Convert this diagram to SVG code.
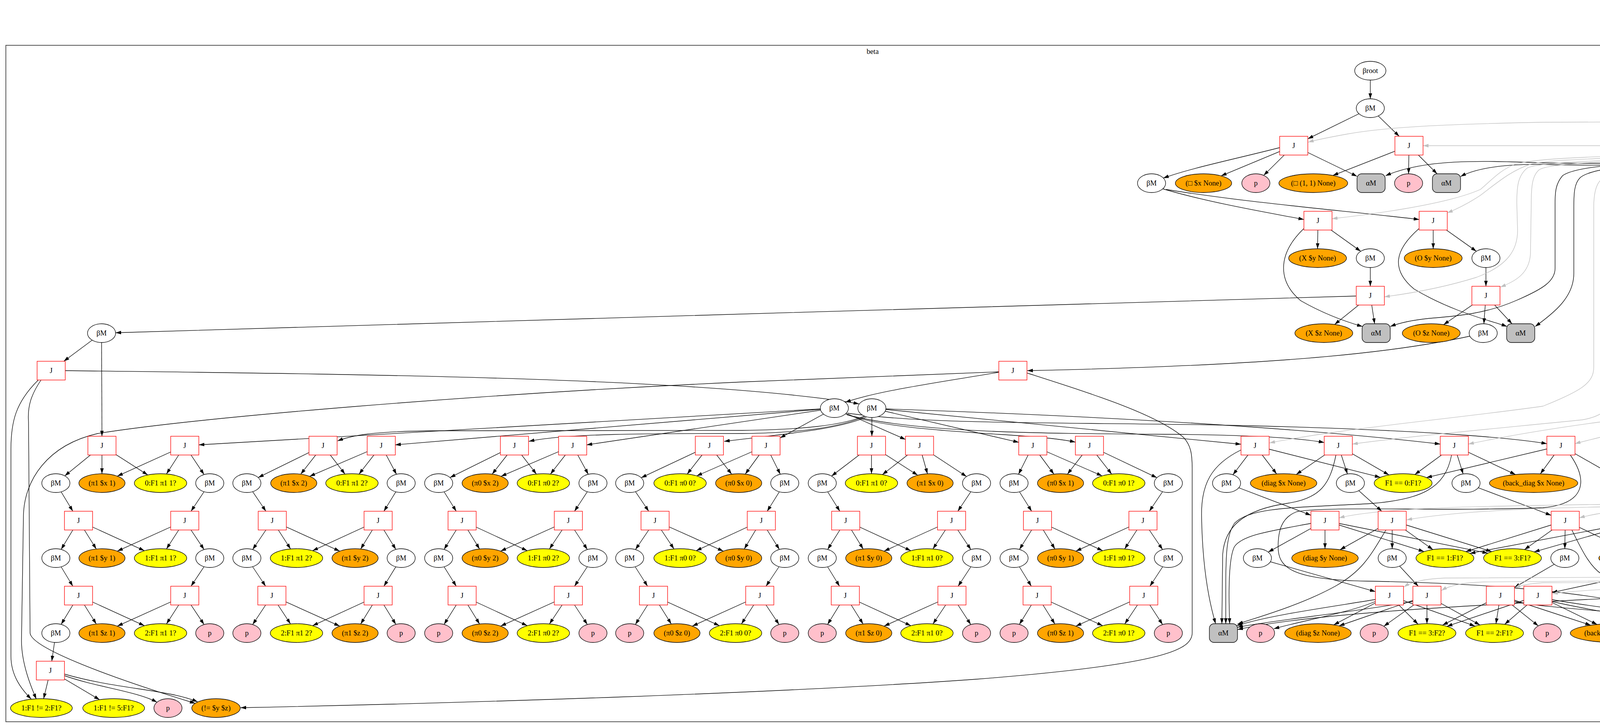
<svg xmlns="http://www.w3.org/2000/svg" width="5160" height="1864" viewBox="0 0 5160 1864">
<style>
text{font-family:"Liberation Serif","Times New Roman",serif;font-size:18.67px;text-anchor:middle;fill:#000}
.n{fill:#fff;stroke:#000;stroke-width:1.33}
.j{fill:#fff;stroke:#f00;stroke-width:1.33}
.o{fill:#ffa500;stroke:#000;stroke-width:1.33}
.y{fill:#ff0;stroke:#000;stroke-width:1.33}
.p{fill:#ffc0cb;stroke:#000;stroke-width:1.33}
.a{fill:#c0c0c0;stroke:#000;stroke-width:1.33}
.c{fill:none;stroke:#555;stroke-width:2}
.e{fill:none;stroke:#000;stroke-width:1.33;marker-end:url(#ah)}
.g{fill:none;stroke:#c0c0c0;stroke-width:1.33;marker-end:url(#ag)}
</style>
<defs>
<marker id="ah" viewBox="0 0 14 10" refX="14" refY="5" markerWidth="14" markerHeight="10" markerUnits="userSpaceOnUse" orient="auto"><path d="M0,0.5 L14,5 L0,9.5 z" fill="#000"/></marker>
<marker id="ag" viewBox="0 0 14 10" refX="14" refY="5" markerWidth="14" markerHeight="10" markerUnits="userSpaceOnUse" orient="auto"><path d="M0,0.5 L14,5 L0,9.5 z" fill="#c0c0c0"/></marker>
</defs>
<rect width="5160" height="1864" fill="#fff"/>
<g id="clusters">
<rect class="c" x="4464" y="16" width="681" height="391"/>
<text x="4804" y="38">alpha</text>
<rect class="c" x="15" y="116" width="4439" height="1732"/>
<text x="2234" y="138">beta</text>
</g>
<g id="connectors">
<path class="e" d="M4755,86 C4640,100 4600,115 4580,150 C4555,190 4536,220 4531,253"/>
<path class="e" d="M4760,93 C4715,105 4685,125 4664,157"/>
<path class="e" d="M4799,81 L4767.6,157.5"/>
<path class="e" d="M4799,81 L4842,253"/>
<path class="e" d="M4799,81 L4896.7,160.4"/>
<path class="e" d="M4843,86 C4960,100 5000,120 5020,170 C5035,205 5042,230 5043,253"/>
<path class="e" d="M4524,277 L4537,349"/>
<path class="e" d="M4758,181 L4686,254.4"/>
<path class="e" d="M4763,205 C4762,260 4755,300 4720,320 C4680,340 4640,350 4598,360"/>
<path class="e" d="M4664,277 L4569,351"/>
<path class="e" d="M4843,277 L4591,357"/>
<path class="e" d="M4929,205 C4930,280 4925,310 4870,330 C4780,350 4680,360 4606,366"/>
<path class="e" d="M5044,277 L4601,362"/>
<path class="e" d="M3508,181 L3508,253"/>
<path class="e" d="M3508,277 L3348,355.4"/>
<path class="e" d="M3508,277 L3582,349"/>
<path class="e" d="M3276,378 C3150,410 3050,430 2978,456"/>
<path class="e" d="M3312,373 L3126,450.3"/>
<path class="e" d="M3312,373 L3235,449.1"/>
<path class="e" d="M3312,373 L3474,451.5"/>
<path class="e" d="M3607,373 L3412,449.3"/>
<path class="e" d="M3607,373 L3606,445"/>
<path class="e" d="M3607,373 L3679,445"/>
<path class="e" d="M2975,483 C3100,520 3250,545 3338,562"/>
<path class="e" d="M2985,485 C3200,520 3450,540 3633,562"/>
<path class="e" d="M3374,565 L3373,637"/>
<path class="e" d="M3374,565 L3483.5,643.4"/>
<path class="e" d="M3338,585 C3270,650 3270,720 3330,770 C3400,810 3460,828 3488,836"/>
<path class="e" d="M3669,565 L3669,637"/>
<path class="e" d="M3669,565 L3779.5,643.4"/>
<path class="e" d="M3633,585 C3570,640 3560,690 3620,740 C3720,800 3820,822 3858,836"/>
<path class="e" d="M3508,661 L3508,733"/>
<path class="e" d="M3804,661 L3804,733"/>
<path class="e" d="M3508,757 L3416.6,830.7"/>
<path class="e" d="M3508,757 L3519,829"/>
<path class="e" d="M3471,758 C2500,790 1200,820 296,852"/>
<path class="e" d="M3804,757 L3695.6,831.3"/>
<path class="e" d="M3804,757 L3798.7,829"/>
<path class="e" d="M3804,757 L3870.75,829"/>
<path class="e" d="M3797,853 C3600,900 3300,935 2630,949"/>
<path class="e" d="M260,853 L163.3,925"/>
<path class="e" d="M260,853 L261,1117"/>
<path class="e" d="M167,949 C900,958 1800,966 2199,1034"/>
<path class="e" d="M98,973 C40,1030 28,1080 28,1150 L28,1680 C28,1730 55,1765 80,1790"/>
<path class="e" d="M105,973 C80,1010 70,1040 73,1080 L77,1620 C77,1660 300,1740 500,1801"/>
<path class="e" d="M2557,953 C2400,980 2250,1000 2164,1030"/>
<path class="e" d="M2557,952 L1900,978 C1200,1010 500,1070 250,1110 C120,1140 62,1230 60,1320 L55,1640 C55,1700 80,1760 93,1790"/>
<path class="e" d="M2629,955 C2800,1010 2960,1060 3030,1120 C3048,1140 3052,1160 3052,1200 L3052,1620 C3052,1660 3000,1700 2500,1739 C2000,1775 1200,1800 616,1812"/>
<path class="e" d="M143,1621 L132.5,1693"/>
<path class="e" d="M129,1717 L111.7,1789"/>
<path class="e" d="M129,1717 L255,1791.6"/>
<path class="e" d="M165,1730 C250,1760 350,1770 402,1798"/>
<path class="e" d="M165,1726 C300,1765 430,1765 506,1797"/>
<path class="e" d="M2136,1045 L509,1139"/>
<path class="e" d="M2136,1045 L1012,1139"/>
<path class="e" d="M2136,1045 L1502,1139"/>
<path class="e" d="M2136,1045 L1997,1121.3"/>
<path class="e" d="M2136,1045 L2318,1125.2"/>
<path class="e" d="M2165,1060 C2250,1095 2450,1105 2600,1115 C2680,1120 2720,1125 2753,1132"/>
<path class="e" d="M2168,1062 C2350,1110 2700,1110 3000,1112 C3200,1114 3330,1122 3390,1133"/>
<path class="e" d="M2170,1058 C2400,1090 2800,1080 3200,1090 C3600,1100 3850,1118 3960,1136"/>
<path class="e" d="M2220,1062 C2160,1090 2050,1100 1900,1102 L1100,1103 C950,1105 900,1115 864,1129"/>
<path class="e" d="M2220,1064 C2150,1095 2050,1108 1900,1110 C1650,1110 1450,1110 1354,1130"/>
<path class="e" d="M2222,1066 C2150,1100 2000,1112 1854,1130"/>
<path class="e" d="M2232,1045 L2232,1117"/>
<path class="e" d="M2232,1045 L2608,1132.6"/>
<path class="e" d="M2232,1045 L3177,1137.5"/>
<path class="e" d="M2268,1047 C2800,1065 3300,1092 3687,1137"/>
<path class="e" d="M261,1141 L165.8,1218.4"/>
<path class="e" d="M261,1141 L261,1213"/>
<path class="e" d="M261,1141 L378.3,1216.1"/>
<path class="e" d="M473,1141 L300.4,1219.1"/>
<path class="e" d="M473,1141 L426.1,1213.6"/>
<path class="e" d="M473,1141 L522.4,1215.1"/>
<path class="e" d="M143,1237 L186.5,1309"/>
<path class="e" d="M537,1237 L489,1309"/>
<path class="e" d="M201,1333 L156.5,1406.7"/>
<path class="e" d="M201,1333 L246.5,1405.7"/>
<path class="e" d="M201,1333 L369.7,1410.1"/>
<path class="e" d="M473,1333 L300.4,1411.1"/>
<path class="e" d="M473,1333 L426.1,1405.6"/>
<path class="e" d="M473,1333 L522.4,1407.1"/>
<path class="e" d="M143,1429 L186.5,1501"/>
<path class="e" d="M537,1429 L489,1501"/>
<path class="e" d="M201,1525 L156.5,1598.7"/>
<path class="e" d="M201,1525 L246.5,1597.7"/>
<path class="e" d="M201,1525 L369.7,1602.1"/>
<path class="e" d="M473,1525 L300.4,1603.1"/>
<path class="e" d="M473,1525 L426.1,1597.6"/>
<path class="e" d="M473,1525 L522.4,1599.1"/>
<path class="e" d="M827,1141 L661,1222.7"/>
<path class="e" d="M827,1141 L769.9,1214.1"/>
<path class="e" d="M827,1141 L883.2,1213.9"/>
<path class="e" d="M976,1141 L792.6,1219.6"/>
<path class="e" d="M976,1141 L919.1,1213.9"/>
<path class="e" d="M976,1141 L1015,1214.4"/>
<path class="e" d="M632,1237 L680.75,1309"/>
<path class="e" d="M1027,1237 L982.75,1309"/>
<path class="e" d="M697,1333 L646.8,1407.1"/>
<path class="e" d="M697,1333 L743.9,1405.6"/>
<path class="e" d="M697,1333 L869.6,1411.1"/>
<path class="e" d="M968,1333 L800.2,1410.1"/>
<path class="e" d="M968,1333 L923.3,1405.7"/>
<path class="e" d="M968,1333 L1013.4,1406.8"/>
<path class="e" d="M632,1429 L680,1501"/>
<path class="e" d="M1027,1429 L982.75,1501"/>
<path class="e" d="M696,1525 L646.8,1599.1"/>
<path class="e" d="M696,1525 L743.7,1597.6"/>
<path class="e" d="M696,1525 L869.6,1603.1"/>
<path class="e" d="M968,1525 L800.2,1602.1"/>
<path class="e" d="M968,1525 L923.3,1597.7"/>
<path class="e" d="M968,1525 L1013.4,1598.8"/>
<path class="e" d="M1317,1141 L1152,1222.7"/>
<path class="e" d="M1317,1141 L1259.9,1214.1"/>
<path class="e" d="M1317,1141 L1373.2,1213.9"/>
<path class="e" d="M1466,1141 L1282.6,1219.6"/>
<path class="e" d="M1466,1141 L1409.1,1213.9"/>
<path class="e" d="M1466,1141 L1506,1214.4"/>
<path class="e" d="M1123,1237 L1168,1309"/>
<path class="e" d="M1518,1237 L1470.75,1309"/>
<path class="e" d="M1183,1333 L1136.8,1406.8"/>
<path class="e" d="M1183,1333 L1227.7,1405.7"/>
<path class="e" d="M1183,1333 L1349.8,1410.1"/>
<path class="e" d="M1455,1333 L1281.6,1411.1"/>
<path class="e" d="M1455,1333 L1406.6,1405.6"/>
<path class="e" d="M1455,1333 L1503.6,1407"/>
<path class="e" d="M1123,1429 L1168,1501"/>
<path class="e" d="M1518,1429 L1470.75,1501"/>
<path class="e" d="M1183,1525 L1136.8,1598.8"/>
<path class="e" d="M1183,1525 L1227.7,1597.7"/>
<path class="e" d="M1183,1525 L1349.8,1602.1"/>
<path class="e" d="M1455,1525 L1281.6,1603.1"/>
<path class="e" d="M1455,1525 L1406.6,1597.6"/>
<path class="e" d="M1455,1525 L1503.6,1599"/>
<path class="e" d="M1816,1141 L1641.4,1223.2"/>
<path class="e" d="M1816,1141 L1759.1,1213.9"/>
<path class="e" d="M1816,1141 L1873.1,1214.1"/>
<path class="e" d="M1961,1141 L1783.5,1218.5"/>
<path class="e" d="M1961,1141 L1907.8,1214"/>
<path class="e" d="M1961,1141 L1997.6,1214.2"/>
<path class="e" d="M1612,1237 L1660.75,1309"/>
<path class="e" d="M2009,1237 L1964,1309"/>
<path class="e" d="M1677,1333 L1626.8,1407.1"/>
<path class="e" d="M1677,1333 L1725.4,1405.6"/>
<path class="e" d="M1677,1333 L1851.6,1411.1"/>
<path class="e" d="M1949,1333 L1782.2,1410.1"/>
<path class="e" d="M1949,1333 L1905.3,1405.7"/>
<path class="e" d="M1949,1333 L1995.2,1406.8"/>
<path class="e" d="M1612,1429 L1657.75,1501"/>
<path class="e" d="M2009,1429 L1961,1501"/>
<path class="e" d="M1673,1525 L1626.5,1599"/>
<path class="e" d="M1673,1525 L1718.5,1597.7"/>
<path class="e" d="M1673,1525 L1841.7,1602.1"/>
<path class="e" d="M1945,1525 L1772.4,1603.1"/>
<path class="e" d="M1945,1525 L1898.1,1597.6"/>
<path class="e" d="M1945,1525 L1994.4,1599.1"/>
<path class="e" d="M2231,1141 L2128.7,1218.9"/>
<path class="e" d="M2231,1141 L2231,1213"/>
<path class="e" d="M2231,1141 L2349.3,1216.7"/>
<path class="e" d="M2354,1141 L2258.9,1215.2"/>
<path class="e" d="M2354,1141 L2374.3,1213.2"/>
<path class="e" d="M2354,1141 L2474.4,1220.2"/>
<path class="e" d="M2105,1237 L2150,1309"/>
<path class="e" d="M2500,1237 L2452,1309"/>
<path class="e" d="M2165,1333 L2118.8,1406.8"/>
<path class="e" d="M2165,1333 L2209.7,1405.7"/>
<path class="e" d="M2165,1333 L2331.8,1410.1"/>
<path class="e" d="M2436,1333 L2263.4,1411.1"/>
<path class="e" d="M2436,1333 L2388.3,1405.6"/>
<path class="e" d="M2436,1333 L2485.4,1407.1"/>
<path class="e" d="M2105,1429 L2149.25,1501"/>
<path class="e" d="M2500,1429 L2452.75,1501"/>
<path class="e" d="M2164,1525 L2118.6,1598.8"/>
<path class="e" d="M2164,1525 L2209.5,1597.7"/>
<path class="e" d="M2164,1525 L2331.8,1602.1"/>
<path class="e" d="M2437,1525 L2263.4,1603.1"/>
<path class="e" d="M2437,1525 L2388.4,1597.6"/>
<path class="e" d="M2437,1525 L2485.2,1599.1"/>
<path class="e" d="M2644,1141 L2607.4,1214.2"/>
<path class="e" d="M2644,1141 L2698,1214"/>
<path class="e" d="M2644,1141 L2821.5,1218.5"/>
<path class="e" d="M2789,1141 L2732.6,1214.1"/>
<path class="e" d="M2789,1141 L2845.9,1213.9"/>
<path class="e" d="M2789,1141 L2961.7,1223.1"/>
<path class="e" d="M2596,1237 L2641,1309"/>
<path class="e" d="M2991,1237 L2942.25,1309"/>
<path class="e" d="M2656,1333 L2609.8,1406.8"/>
<path class="e" d="M2656,1333 L2700.7,1405.7"/>
<path class="e" d="M2656,1333 L2822.8,1410.1"/>
<path class="e" d="M2926,1333 L2754.4,1411.1"/>
<path class="e" d="M2926,1333 L2879.1,1405.6"/>
<path class="e" d="M2926,1333 L2976.2,1407.1"/>
<path class="e" d="M2596,1429 L2640.25,1501"/>
<path class="e" d="M2991,1429 L2943.75,1501"/>
<path class="e" d="M2655,1525 L2609.6,1598.8"/>
<path class="e" d="M2655,1525 L2700.5,1597.7"/>
<path class="e" d="M2655,1525 L2822.8,1602.1"/>
<path class="e" d="M2928,1525 L2754.4,1603.1"/>
<path class="e" d="M2928,1525 L2879.4,1597.6"/>
<path class="e" d="M2928,1525 L2976.2,1599.1"/>
<path class="e" d="M3213,1141 L3156.3,1215.6"/>
<path class="e" d="M3213,1141 L3268.2,1213.5"/>
<path class="e" d="M3213,1141 L3533.7,1222.2"/>
<path class="e" d="M3177,1152 C3100,1190 3075,1240 3076,1320 C3078,1450 3095,1540 3112,1597"/>
<path class="e" d="M3426,1141 L3318.4,1214.8"/>
<path class="e" d="M3426,1141 L3449.4,1213.5"/>
<path class="e" d="M3426,1141 L3555.8,1216.1"/>
<path class="e" d="M3420,1165 C3405,1240 3380,1275 3300,1288 C3180,1305 3135,1350 3130,1420 L3128,1597"/>
<path class="e" d="M3723,1141 L3621.9,1215.1"/>
<path class="e" d="M3723,1141 L3745.6,1213.5"/>
<path class="e" d="M3723,1141 L3879.7,1215.1"/>
<path class="e" d="M3716,1165 C3700,1250 3640,1280 3500,1290 C3300,1300 3200,1300 3160,1340 C3140,1370 3138,1420 3138,1500 L3138,1597"/>
<path class="e" d="M3996,1141 L3651.7,1222.8"/>
<path class="e" d="M3996,1141 L3943.3,1213.3"/>
<path class="e" d="M3996,1141 L4136.7,1221.4"/>
<path class="e" d="M4020,1165 C4065,1230 4060,1290 3950,1300 C3700,1310 3400,1295 3320,1310 C3280,1325 3272,1360 3272,1400 C3272,1450 3300,1485 3500,1488 C3900,1495 4200,1530 4368,1600"/>
<path class="e" d="M3140,1237 L3356,1319.3"/>
<path class="e" d="M3457,1237 L3537.25,1309"/>
<path class="e" d="M3753,1237 L3971,1319.4"/>
<path class="e" d="M4164,1237 L4196.25,1309"/>
<path class="e" d="M3392,1333 L3246.7,1413.6"/>
<path class="e" d="M3392,1333 L3392,1405"/>
<path class="e" d="M3392,1333 L3645.7,1412.3"/>
<path class="e" d="M3392,1333 L3809,1416.4"/>
<path class="e" d="M3356,1340 C3250,1360 3180,1370 3160,1400 C3145,1430 3145,1520 3148,1597"/>
<path class="e" d="M3564,1333 L3430.4,1407.6"/>
<path class="e" d="M3564,1333 L3564,1405"/>
<path class="e" d="M3564,1333 L3668.3,1407.2"/>
<path class="e" d="M3564,1333 L3818.6,1412.3"/>
<path class="e" d="M3548,1357 C3510,1420 3490,1460 3420,1500 C3330,1550 3220,1580 3168,1598"/>
<path class="e" d="M4007,1333 L3752.4,1412.3"/>
<path class="e" d="M4007,1333 L3902.7,1407.2"/>
<path class="e" d="M4007,1333 L4006,1405"/>
<path class="e" d="M4007,1333 L4161.2,1407"/>
<path class="e" d="M4024,1357 C4050,1410 4070,1450 4100,1470 C4200,1530 4300,1570 4368,1600"/>
<path class="e" d="M4207,1333 L3763,1416.9"/>
<path class="e" d="M4207,1333 L3927.4,1413.1"/>
<path class="e" d="M4207,1333 L4207,1405"/>
<path class="e" d="M4207,1333 L4352.3,1413.6"/>
<path class="e" d="M4243,1340 C4350,1370 4425,1400 4438,1460 C4445,1520 4435,1560 4425,1597"/>
<path class="e" d="M3219,1429 L3521,1514.8"/>
<path class="e" d="M3564,1429 L3630.75,1501"/>
<path class="e" d="M4006,1429 L3877,1504.1"/>
<path class="e" d="M4380,1429 L3973,1517.2"/>
<path class="e" d="M3521,1540 C3450,1570 3330,1590 3261,1610"/>
<path class="e" d="M3557,1525 L3414.3,1599.9"/>
<path class="e" d="M3557,1525 L3630.2,1598.2"/>
<path class="e" d="M3557,1525 L3776.2,1603.2"/>
<path class="e" d="M3521,1535 C3400,1555 3250,1575 3166,1602"/>
<path class="e" d="M3653,1525 L3542.6,1603.5"/>
<path class="e" d="M3653,1525 L3427.9,1602.5"/>
<path class="e" d="M3653,1525 L3653,1597"/>
<path class="e" d="M3653,1525 L3788.7,1600.3"/>
<path class="e" d="M3617,1540 C3450,1570 3280,1585 3168,1606"/>
<path class="e" d="M3841,1525 L3692.7,1600.7"/>
<path class="e" d="M3841,1525 L3829.7,1597.1"/>
<path class="e" d="M3841,1525 L3938,1602.6"/>
<path class="e" d="M3841,1525 L4072.4,1600.8"/>
<path class="e" d="M3877,1540 C4000,1565 4250,1565 4368,1604"/>
<path class="e" d="M3937,1525 L3704.2,1603.7"/>
<path class="e" d="M3937,1525 L3852,1598.5"/>
<path class="e" d="M3937,1525 L4088.8,1599"/>
<path class="e" d="M3973,1540 C4100,1570 4220,1580 4279,1607"/>
<path class="e" d="M3973,1535 C4100,1560 4260,1565 4368,1608"/>
<path class="e" d="M4478,393 C4300,420 4100,420 3950,417 C3800,412 3650,405 3547,450"/>
<path class="e" d="M4480,395 C4300,425 4100,425 3950,421 C3850,420 3780,430 3739,452"/>
<path class="e" d="M4485,398 C4200,420 4040,420 4000,450 C3983,470 3981,490 3981,520 L3981,687 C3981,720 3950,740 3880,770 C3800,805 3720,810 3660,815 C3610,820 3580,828 3559,836"/>
<path class="e" d="M4488,400 C4200,425 4080,425 4045,455 C4030,470 4029,495 4029,530 L4029,700 C4029,760 3980,800 3930,836"/>
<path class="e" d="M4590,390 C4640,420 4650,460 4650,520 L4650,1500 C4650,1570 4550,1610 4440,1618"/>
<path class="e" d="M4600,387 C4690,420 4700,470 4700,540 L4700,1430 C4700,1480 4600,1505 4450,1515 C4000,1540 3400,1560 3168,1612"/>
<path class="g" d="M4504,352 C4470,322 4400,313 4200,312 L3950,313 C3700,318 3550,325 3450,343 C3400,352 3370,358 3349,364"/>
<path class="g" d="M4474,373 L3643,373"/>
<path class="g" d="M4480,385 C4200,400 3950,400 3880,420 C3840,435 3820,460 3790,485 C3700,525 3500,550 3410,560"/>
<path class="g" d="M4480,388 C4200,405 3980,405 3920,420 C3870,435 3830,470 3790,500 C3760,520 3730,535 3705,545"/>
<path class="g" d="M4482,392 C4250,410 3950,410 3910,430 C3885,450 3883,480 3883,520 L3885,590 C3885,640 3860,680 3780,710 C3700,735 3620,750 3544,760"/>
<path class="g" d="M4484,395 C4250,412 3970,412 3940,435 C3922,450 3920,480 3920,520 L3918,650 C3915,700 3880,720 3841,735"/>
<path class="g" d="M4515,396 C4400,418 4200,418 4130,440 C4090,455 4080,480 4080,530 L4080,940 C4080,980 4050,1000 3950,1040 C3700,1075 3450,1095 3250,1134"/>
<path class="g" d="M4518,396 C4420,418 4250,420 4170,440 C4140,455 4131,480 4131,530 L4131,990 C4130,1040 4110,1065 4050,1075 C3800,1100 3600,1118 3462,1137"/>
<path class="g" d="M4521,397 C4440,420 4290,422 4220,445 C4190,460 4182,485 4182,530 L4182,1000 C4181,1050 4160,1070 4100,1080 C3950,1100 3850,1118 3759,1137"/>
<path class="g" d="M4524,397 C4460,420 4320,425 4270,450 C4240,465 4233,490 4233,535 L4233,1000 C4232,1060 4200,1090 4150,1105 C4100,1120 4060,1128 4032,1136"/>
<path class="g" d="M4527,397 C4480,422 4340,430 4310,455 C4288,472 4284,495 4284,540 L4284,1240 C4284,1270 4260,1285 4200,1290 C3900,1295 3550,1295 3428,1326"/>
<path class="g" d="M4530,397 C4495,425 4380,435 4355,460 C4338,478 4335,500 4335,545 L4335,1250 C4334,1280 4310,1293 4250,1296 C4000,1298 3750,1305 3601,1331"/>
<path class="g" d="M4533,397 C4510,428 4410,440 4395,465 C4386,480 4384,505 4384,550 L4384,1230 C4383,1265 4360,1285 4300,1292 C4200,1300 4100,1310 4043,1326"/>
<path class="g" d="M4536,397 C4525,430 4445,445 4438,470 C4435,485 4435,510 4435,555 L4435,1250 C4434,1290 4400,1310 4350,1315 C4300,1320 4270,1324 4243,1328"/>
<path class="g" d="M4539,397 C4530,430 4490,450 4487,480 L4486,1430 C4486,1465 4460,1475 4400,1477 L3700,1480 C3640,1482 3610,1492 3594,1503"/>
<path class="g" d="M4542,397 C4540,430 4537,450 4537,490 L4537,1440 C4537,1475 4510,1483 4450,1485 L3800,1490 C3740,1492 3710,1500 3690,1512"/>
<path class="g" d="M4545,397 C4555,430 4578,450 4578,490 L4578,1445 C4578,1480 4550,1488 4480,1490 L3950,1492 C3920,1494 3895,1498 3878,1505"/>
<path class="g" d="M4548,397 C4570,430 4620,450 4620,495 L4620,1450 C4620,1488 4590,1496 4500,1498 C4200,1502 4050,1510 3974,1520"/>
</g>
<g id="alpha_notest"><ellipse class="n" cx="4799" cy="81" rx="46" ry="24"/><text x="4799" y="87">no-test</text></g>
<g id="alpha_aM"><rect class="a" x="4615" y="157" width="72" height="48" rx="12"/><text x="4651" y="187">αM</text></g>
<g id="alpha_F0sq"><ellipse class="n" cx="4758" cy="181" rx="49" ry="24"/><text x="4758" y="187">F0==□</text></g>
<g id="alpha_F0O"><ellipse class="n" cx="4922" cy="181" rx="49" ry="24"/><text x="4922" y="187">F0==O</text></g>
<g id="alpha_F0X"><ellipse class="n" cx="4524" cy="277" rx="49" ry="24"/><text x="4524" y="283">F0==X</text></g>
<g id="alpha_F1"><ellipse class="n" cx="4664" cy="277" rx="67" ry="24"/><text x="4664" y="283">F1==(1, 1)</text></g>
<g id="alpha_F0diag"><ellipse class="n" cx="4843" cy="277" rx="61" ry="24"/><text x="4843" y="283">F0==diag</text></g>
<g id="alpha_F0bd"><ellipse class="n" cx="5044" cy="277" rx="90" ry="24"/><text x="5044" y="283">F0==back_diag</text></g>
<g id="alpha_F2"><ellipse class="n" cx="4541" cy="373" rx="67" ry="24"/><text x="4541" y="379">F2==None</text></g>
<g id="b_root"><ellipse class="n" cx="3508" cy="181" rx="40" ry="24"/><text x="3508" y="187">βroot</text></g>
<g id="b_M_3508_277"><ellipse class="n" cx="3508" cy="277" rx="36" ry="24"/><text x="3508" y="283">βM</text></g>
<g id="b_J_3312_373"><rect class="j" x="3276" y="349" width="72" height="48"/><text x="3312" y="379">J</text></g>
<g id="b_J_3607_373"><rect class="j" x="3571" y="349" width="72" height="48"/><text x="3607" y="379">J</text></g>
<g id="b_M_2948_469"><ellipse class="n" cx="2948" cy="469" rx="36" ry="24"/><text x="2948" y="475">βM</text></g>
<g id="b_o_3081_469"><ellipse class="o" cx="3081" cy="469" rx="72" ry="24"/><text x="3081" y="475">(□ $x None)</text></g>
<g id="b_p_3215_469"><ellipse class="p" cx="3215" cy="469" rx="36" ry="24"/><text x="3215" y="475">p</text></g>
<g id="b_o_3362_469"><ellipse class="o" cx="3362" cy="469" rx="88" ry="24"/><text x="3362" y="475">(□ (1, 1) None)</text></g>
<g id="b_aM_3510_469"><rect class="a" x="3474" y="445" width="72" height="48" rx="12"/><text x="3510" y="475">αM</text></g>
<g id="b_p_3606_469"><ellipse class="p" cx="3606" cy="469" rx="36" ry="24"/><text x="3606" y="475">p</text></g>
<g id="b_aM_3703_469"><rect class="a" x="3667" y="445" width="72" height="48" rx="12"/><text x="3703" y="475">αM</text></g>
<g id="b_J_3374_565"><rect class="j" x="3338" y="541" width="72" height="48"/><text x="3374" y="571">J</text></g>
<g id="b_J_3669_565"><rect class="j" x="3633" y="541" width="72" height="48"/><text x="3669" y="571">J</text></g>
<g id="b_o_3373_661"><ellipse class="o" cx="3373" cy="661" rx="74" ry="24"/><text x="3373" y="667">(X $y None)</text></g>
<g id="b_M_3508_661"><ellipse class="n" cx="3508" cy="661" rx="36" ry="24"/><text x="3508" y="667">βM</text></g>
<g id="b_o_3669_661"><ellipse class="o" cx="3669" cy="661" rx="74" ry="24"/><text x="3669" y="667">(O $y None)</text></g>
<g id="b_M_3804_661"><ellipse class="n" cx="3804" cy="661" rx="36" ry="24"/><text x="3804" y="667">βM</text></g>
<g id="b_J_3508_757"><rect class="j" x="3472" y="733" width="72" height="48"/><text x="3508" y="763">J</text></g>
<g id="b_J_3804_757"><rect class="j" x="3768" y="733" width="72" height="48"/><text x="3804" y="763">J</text></g>
<g id="b_o_3389_853"><ellipse class="o" cx="3389" cy="853" rx="74" ry="24"/><text x="3389" y="859">(X $z None)</text></g>
<g id="b_aM_3523_853"><rect class="a" x="3487" y="829" width="72" height="48" rx="12"/><text x="3523" y="859">αM</text></g>
<g id="b_o_3664_853"><ellipse class="o" cx="3664" cy="853" rx="74" ry="24"/><text x="3664" y="859">(O $z None)</text></g>
<g id="b_M_3797_853"><ellipse class="n" cx="3797" cy="853" rx="36" ry="24"/><text x="3797" y="859">βM</text></g>
<g id="b_aM_3893_853"><rect class="a" x="3857" y="829" width="72" height="48" rx="12"/><text x="3893" y="859">αM</text></g>
<g id="b_M_260_853"><ellipse class="n" cx="260" cy="853" rx="36" ry="24"/><text x="260" y="859">βM</text></g>
<g id="b_J_131_949"><rect class="j" x="95" y="925" width="72" height="48"/><text x="131" y="955">J</text></g>
<g id="b_J_2593_949"><rect class="j" x="2557" y="925" width="72" height="48"/><text x="2593" y="955">J</text></g>
<g id="b_M_2136_1045"><ellipse class="n" cx="2136" cy="1045" rx="36" ry="24"/><text x="2136" y="1051">βM</text></g>
<g id="b_M_2232_1045"><ellipse class="n" cx="2232" cy="1045" rx="36" ry="24"/><text x="2232" y="1051">βM</text></g>
<g id="b_J_261_1141"><rect class="j" x="225" y="1117" width="72" height="48"/><text x="261" y="1147">J</text></g>
<g id="b_J_473_1141"><rect class="j" x="437" y="1117" width="72" height="48"/><text x="473" y="1147">J</text></g>
<g id="b_J_827_1141"><rect class="j" x="791" y="1117" width="72" height="48"/><text x="827" y="1147">J</text></g>
<g id="b_J_976_1141"><rect class="j" x="940" y="1117" width="72" height="48"/><text x="976" y="1147">J</text></g>
<g id="b_J_1317_1141"><rect class="j" x="1281" y="1117" width="72" height="48"/><text x="1317" y="1147">J</text></g>
<g id="b_J_1466_1141"><rect class="j" x="1430" y="1117" width="72" height="48"/><text x="1466" y="1147">J</text></g>
<g id="b_J_1816_1141"><rect class="j" x="1780" y="1117" width="72" height="48"/><text x="1816" y="1147">J</text></g>
<g id="b_J_1961_1141"><rect class="j" x="1925" y="1117" width="72" height="48"/><text x="1961" y="1147">J</text></g>
<g id="b_J_2231_1141"><rect class="j" x="2195" y="1117" width="72" height="48"/><text x="2231" y="1147">J</text></g>
<g id="b_J_2354_1141"><rect class="j" x="2318" y="1117" width="72" height="48"/><text x="2354" y="1147">J</text></g>
<g id="b_J_2644_1141"><rect class="j" x="2608" y="1117" width="72" height="48"/><text x="2644" y="1147">J</text></g>
<g id="b_J_2789_1141"><rect class="j" x="2753" y="1117" width="72" height="48"/><text x="2789" y="1147">J</text></g>
<g id="b_J_3213_1141"><rect class="j" x="3177" y="1117" width="72" height="48"/><text x="3213" y="1147">J</text></g>
<g id="b_J_3426_1141"><rect class="j" x="3390" y="1117" width="72" height="48"/><text x="3426" y="1147">J</text></g>
<g id="b_J_3723_1141"><rect class="j" x="3687" y="1117" width="72" height="48"/><text x="3723" y="1147">J</text></g>
<g id="b_J_3996_1141"><rect class="j" x="3960" y="1117" width="72" height="48"/><text x="3996" y="1147">J</text></g>
<g id="b_M_143_1237"><ellipse class="n" cx="143" cy="1237" rx="36" ry="24"/><text x="143" y="1243">βM</text></g>
<g id="b_o_261_1237"><ellipse class="o" cx="261" cy="1237" rx="59" ry="24"/><text x="261" y="1243">(π1 $x 1)</text></g>
<g id="b_y_411_1237"><ellipse class="y" cx="411" cy="1237" rx="67" ry="24"/><text x="411" y="1243">0:F1 π1 1?</text></g>
<g id="b_M_537_1237"><ellipse class="n" cx="537" cy="1237" rx="36" ry="24"/><text x="537" y="1243">βM</text></g>
<g id="b_M_632_1237"><ellipse class="n" cx="632" cy="1237" rx="36" ry="24"/><text x="632" y="1243">βM</text></g>
<g id="b_o_752_1237"><ellipse class="o" cx="752" cy="1237" rx="59" ry="24"/><text x="752" y="1243">(π1 $x 2)</text></g>
<g id="b_y_901_1237"><ellipse class="y" cx="901" cy="1237" rx="67" ry="24"/><text x="901" y="1243">0:F1 π1 2?</text></g>
<g id="b_M_1027_1237"><ellipse class="n" cx="1027" cy="1237" rx="36" ry="24"/><text x="1027" y="1243">βM</text></g>
<g id="b_M_1123_1237"><ellipse class="n" cx="1123" cy="1237" rx="36" ry="24"/><text x="1123" y="1243">βM</text></g>
<g id="b_o_1242_1237"><ellipse class="o" cx="1242" cy="1237" rx="59" ry="24"/><text x="1242" y="1243">(π0 $x 2)</text></g>
<g id="b_y_1391_1237"><ellipse class="y" cx="1391" cy="1237" rx="67" ry="24"/><text x="1391" y="1243">0:F1 π0 2?</text></g>
<g id="b_M_1518_1237"><ellipse class="n" cx="1518" cy="1237" rx="36" ry="24"/><text x="1518" y="1243">βM</text></g>
<g id="b_M_1612_1237"><ellipse class="n" cx="1612" cy="1237" rx="36" ry="24"/><text x="1612" y="1243">βM</text></g>
<g id="b_y_1741_1237"><ellipse class="y" cx="1741" cy="1237" rx="67" ry="24"/><text x="1741" y="1243">0:F1 π0 0?</text></g>
<g id="b_o_1891_1237"><ellipse class="o" cx="1891" cy="1237" rx="59" ry="24"/><text x="1891" y="1243">(π0 $x 0)</text></g>
<g id="b_M_2009_1237"><ellipse class="n" cx="2009" cy="1237" rx="36" ry="24"/><text x="2009" y="1243">βM</text></g>
<g id="b_M_2105_1237"><ellipse class="n" cx="2105" cy="1237" rx="36" ry="24"/><text x="2105" y="1243">βM</text></g>
<g id="b_y_2231_1237"><ellipse class="y" cx="2231" cy="1237" rx="67" ry="24"/><text x="2231" y="1243">0:F1 π1 0?</text></g>
<g id="b_o_2381_1237"><ellipse class="o" cx="2381" cy="1237" rx="59" ry="24"/><text x="2381" y="1243">(π1 $x 0)</text></g>
<g id="b_M_2500_1237"><ellipse class="n" cx="2500" cy="1237" rx="36" ry="24"/><text x="2500" y="1243">βM</text></g>
<g id="b_M_2596_1237"><ellipse class="n" cx="2596" cy="1237" rx="36" ry="24"/><text x="2596" y="1243">βM</text></g>
<g id="b_o_2715_1237"><ellipse class="o" cx="2715" cy="1237" rx="59" ry="24"/><text x="2715" y="1243">(π0 $x 1)</text></g>
<g id="b_y_2864_1237"><ellipse class="y" cx="2864" cy="1237" rx="67" ry="24"/><text x="2864" y="1243">0:F1 π0 1?</text></g>
<g id="b_M_2991_1237"><ellipse class="n" cx="2991" cy="1237" rx="36" ry="24"/><text x="2991" y="1243">βM</text></g>
<g id="b_M_3140_1237"><ellipse class="n" cx="3140" cy="1237" rx="36" ry="24"/><text x="3140" y="1243">βM</text></g>
<g id="b_o_3286_1237"><ellipse class="o" cx="3286" cy="1237" rx="85" ry="24"/><text x="3286" y="1243">(diag $x None)</text></g>
<g id="b_M_3457_1237"><ellipse class="n" cx="3457" cy="1237" rx="36" ry="24"/><text x="3457" y="1243">βM</text></g>
<g id="b_y_3592_1237"><ellipse class="y" cx="3592" cy="1237" rx="74" ry="24"/><text x="3592" y="1243">F1 == 0:F1?</text></g>
<g id="b_M_3753_1237"><ellipse class="n" cx="3753" cy="1237" rx="36" ry="24"/><text x="3753" y="1243">βM</text></g>
<g id="b_o_3926_1237"><ellipse class="o" cx="3926" cy="1237" rx="113" ry="24"/><text x="3926" y="1243">(back_diag $x None)</text></g>
<g id="b_M_4164_1237"><ellipse class="n" cx="4164" cy="1237" rx="36" ry="24"/><text x="4164" y="1243">βM</text></g>
<g id="b_J_201_1333"><rect class="j" x="165" y="1309" width="72" height="48"/><text x="201" y="1339">J</text></g>
<g id="b_J_473_1333"><rect class="j" x="437" y="1309" width="72" height="48"/><text x="473" y="1339">J</text></g>
<g id="b_J_697_1333"><rect class="j" x="661" y="1309" width="72" height="48"/><text x="697" y="1339">J</text></g>
<g id="b_J_968_1333"><rect class="j" x="932" y="1309" width="72" height="48"/><text x="968" y="1339">J</text></g>
<g id="b_J_1183_1333"><rect class="j" x="1147" y="1309" width="72" height="48"/><text x="1183" y="1339">J</text></g>
<g id="b_J_1455_1333"><rect class="j" x="1419" y="1309" width="72" height="48"/><text x="1455" y="1339">J</text></g>
<g id="b_J_1677_1333"><rect class="j" x="1641" y="1309" width="72" height="48"/><text x="1677" y="1339">J</text></g>
<g id="b_J_1949_1333"><rect class="j" x="1913" y="1309" width="72" height="48"/><text x="1949" y="1339">J</text></g>
<g id="b_J_2165_1333"><rect class="j" x="2129" y="1309" width="72" height="48"/><text x="2165" y="1339">J</text></g>
<g id="b_J_2436_1333"><rect class="j" x="2400" y="1309" width="72" height="48"/><text x="2436" y="1339">J</text></g>
<g id="b_J_2656_1333"><rect class="j" x="2620" y="1309" width="72" height="48"/><text x="2656" y="1339">J</text></g>
<g id="b_J_2926_1333"><rect class="j" x="2890" y="1309" width="72" height="48"/><text x="2926" y="1339">J</text></g>
<g id="b_J_3392_1333"><rect class="j" x="3356" y="1309" width="72" height="48"/><text x="3392" y="1339">J</text></g>
<g id="b_J_3564_1333"><rect class="j" x="3528" y="1309" width="72" height="48"/><text x="3564" y="1339">J</text></g>
<g id="b_J_4007_1333"><rect class="j" x="3971" y="1309" width="72" height="48"/><text x="4007" y="1339">J</text></g>
<g id="b_J_4207_1333"><rect class="j" x="4171" y="1309" width="72" height="48"/><text x="4207" y="1339">J</text></g>
<g id="b_M_143_1429"><ellipse class="n" cx="143" cy="1429" rx="36" ry="24"/><text x="143" y="1435">βM</text></g>
<g id="b_o_261_1429"><ellipse class="o" cx="261" cy="1429" rx="59" ry="24"/><text x="261" y="1435">(π1 $y 1)</text></g>
<g id="b_y_411_1429"><ellipse class="y" cx="411" cy="1429" rx="67" ry="24"/><text x="411" y="1435">1:F1 π1 1?</text></g>
<g id="b_M_537_1429"><ellipse class="n" cx="537" cy="1429" rx="36" ry="24"/><text x="537" y="1435">βM</text></g>
<g id="b_M_632_1429"><ellipse class="n" cx="632" cy="1429" rx="36" ry="24"/><text x="632" y="1435">βM</text></g>
<g id="b_y_759_1429"><ellipse class="y" cx="759" cy="1429" rx="67" ry="24"/><text x="759" y="1435">1:F1 π1 2?</text></g>
<g id="b_o_909_1429"><ellipse class="o" cx="909" cy="1429" rx="59" ry="24"/><text x="909" y="1435">(π1 $y 2)</text></g>
<g id="b_M_1027_1429"><ellipse class="n" cx="1027" cy="1429" rx="36" ry="24"/><text x="1027" y="1435">βM</text></g>
<g id="b_M_1123_1429"><ellipse class="n" cx="1123" cy="1429" rx="36" ry="24"/><text x="1123" y="1435">βM</text></g>
<g id="b_o_1242_1429"><ellipse class="o" cx="1242" cy="1429" rx="59" ry="24"/><text x="1242" y="1435">(π0 $y 2)</text></g>
<g id="b_y_1391_1429"><ellipse class="y" cx="1391" cy="1429" rx="67" ry="24"/><text x="1391" y="1435">1:F1 π0 2?</text></g>
<g id="b_M_1518_1429"><ellipse class="n" cx="1518" cy="1429" rx="36" ry="24"/><text x="1518" y="1435">βM</text></g>
<g id="b_M_1612_1429"><ellipse class="n" cx="1612" cy="1429" rx="36" ry="24"/><text x="1612" y="1435">βM</text></g>
<g id="b_y_1741_1429"><ellipse class="y" cx="1741" cy="1429" rx="67" ry="24"/><text x="1741" y="1435">1:F1 π0 0?</text></g>
<g id="b_o_1891_1429"><ellipse class="o" cx="1891" cy="1429" rx="59" ry="24"/><text x="1891" y="1435">(π0 $y 0)</text></g>
<g id="b_M_2009_1429"><ellipse class="n" cx="2009" cy="1429" rx="36" ry="24"/><text x="2009" y="1435">βM</text></g>
<g id="b_M_2105_1429"><ellipse class="n" cx="2105" cy="1429" rx="36" ry="24"/><text x="2105" y="1435">βM</text></g>
<g id="b_o_2224_1429"><ellipse class="o" cx="2224" cy="1429" rx="59" ry="24"/><text x="2224" y="1435">(π1 $y 0)</text></g>
<g id="b_y_2373_1429"><ellipse class="y" cx="2373" cy="1429" rx="67" ry="24"/><text x="2373" y="1435">1:F1 π1 0?</text></g>
<g id="b_M_2500_1429"><ellipse class="n" cx="2500" cy="1429" rx="36" ry="24"/><text x="2500" y="1435">βM</text></g>
<g id="b_M_2596_1429"><ellipse class="n" cx="2596" cy="1429" rx="36" ry="24"/><text x="2596" y="1435">βM</text></g>
<g id="b_o_2715_1429"><ellipse class="o" cx="2715" cy="1429" rx="59" ry="24"/><text x="2715" y="1435">(π0 $y 1)</text></g>
<g id="b_y_2864_1429"><ellipse class="y" cx="2864" cy="1429" rx="67" ry="24"/><text x="2864" y="1435">1:F1 π0 1?</text></g>
<g id="b_M_2991_1429"><ellipse class="n" cx="2991" cy="1429" rx="36" ry="24"/><text x="2991" y="1435">βM</text></g>
<g id="b_M_3219_1429"><ellipse class="n" cx="3219" cy="1429" rx="36" ry="24"/><text x="3219" y="1435">βM</text></g>
<g id="b_o_3392_1429"><ellipse class="o" cx="3392" cy="1429" rx="85" ry="24"/><text x="3392" y="1435">(diag $y None)</text></g>
<g id="b_M_3564_1429"><ellipse class="n" cx="3564" cy="1429" rx="36" ry="24"/><text x="3564" y="1435">βM</text></g>
<g id="b_y_3699_1429"><ellipse class="y" cx="3699" cy="1429" rx="74" ry="24"/><text x="3699" y="1435">F1 == 1:F1?</text></g>
<g id="b_y_3872_1429"><ellipse class="y" cx="3872" cy="1429" rx="74" ry="24"/><text x="3872" y="1435">F1 == 3:F1?</text></g>
<g id="b_M_4006_1429"><ellipse class="n" cx="4006" cy="1429" rx="36" ry="24"/><text x="4006" y="1435">βM</text></g>
<g id="b_o_4207_1429"><ellipse class="o" cx="4207" cy="1429" rx="114" ry="24"/><text x="4207" y="1435">(back_diag $y None)</text></g>
<g id="b_M_4380_1429"><ellipse class="n" cx="4380" cy="1429" rx="36" ry="24"/><text x="4380" y="1435">βM</text></g>
<g id="b_J_201_1525"><rect class="j" x="165" y="1501" width="72" height="48"/><text x="201" y="1531">J</text></g>
<g id="b_J_473_1525"><rect class="j" x="437" y="1501" width="72" height="48"/><text x="473" y="1531">J</text></g>
<g id="b_J_696_1525"><rect class="j" x="660" y="1501" width="72" height="48"/><text x="696" y="1531">J</text></g>
<g id="b_J_968_1525"><rect class="j" x="932" y="1501" width="72" height="48"/><text x="968" y="1531">J</text></g>
<g id="b_J_1183_1525"><rect class="j" x="1147" y="1501" width="72" height="48"/><text x="1183" y="1531">J</text></g>
<g id="b_J_1455_1525"><rect class="j" x="1419" y="1501" width="72" height="48"/><text x="1455" y="1531">J</text></g>
<g id="b_J_1673_1525"><rect class="j" x="1637" y="1501" width="72" height="48"/><text x="1673" y="1531">J</text></g>
<g id="b_J_1945_1525"><rect class="j" x="1909" y="1501" width="72" height="48"/><text x="1945" y="1531">J</text></g>
<g id="b_J_2164_1525"><rect class="j" x="2128" y="1501" width="72" height="48"/><text x="2164" y="1531">J</text></g>
<g id="b_J_2437_1525"><rect class="j" x="2401" y="1501" width="72" height="48"/><text x="2437" y="1531">J</text></g>
<g id="b_J_2655_1525"><rect class="j" x="2619" y="1501" width="72" height="48"/><text x="2655" y="1531">J</text></g>
<g id="b_J_2928_1525"><rect class="j" x="2892" y="1501" width="72" height="48"/><text x="2928" y="1531">J</text></g>
<g id="b_J_3557_1525"><rect class="j" x="3521" y="1501" width="72" height="48"/><text x="3557" y="1531">J</text></g>
<g id="b_J_3653_1525"><rect class="j" x="3617" y="1501" width="72" height="48"/><text x="3653" y="1531">J</text></g>
<g id="b_J_3841_1525"><rect class="j" x="3805" y="1501" width="72" height="48"/><text x="3841" y="1531">J</text></g>
<g id="b_J_3937_1525"><rect class="j" x="3901" y="1501" width="72" height="48"/><text x="3937" y="1531">J</text></g>
<g id="b_M_143_1621"><ellipse class="n" cx="143" cy="1621" rx="36" ry="24"/><text x="143" y="1627">βM</text></g>
<g id="b_o_261_1621"><ellipse class="o" cx="261" cy="1621" rx="59" ry="24"/><text x="261" y="1627">(π1 $z 1)</text></g>
<g id="b_y_411_1621"><ellipse class="y" cx="411" cy="1621" rx="67" ry="24"/><text x="411" y="1627">2:F1 π1 1?</text></g>
<g id="b_p_537_1621"><ellipse class="p" cx="537" cy="1621" rx="36" ry="24"/><text x="537" y="1627">p</text></g>
<g id="b_p_632_1621"><ellipse class="p" cx="632" cy="1621" rx="36" ry="24"/><text x="632" y="1627">p</text></g>
<g id="b_y_759_1621"><ellipse class="y" cx="759" cy="1621" rx="67" ry="24"/><text x="759" y="1627">2:F1 π1 2?</text></g>
<g id="b_o_909_1621"><ellipse class="o" cx="909" cy="1621" rx="59" ry="24"/><text x="909" y="1627">(π1 $z 2)</text></g>
<g id="b_p_1027_1621"><ellipse class="p" cx="1027" cy="1621" rx="36" ry="24"/><text x="1027" y="1627">p</text></g>
<g id="b_p_1123_1621"><ellipse class="p" cx="1123" cy="1621" rx="36" ry="24"/><text x="1123" y="1627">p</text></g>
<g id="b_o_1242_1621"><ellipse class="o" cx="1242" cy="1621" rx="59" ry="24"/><text x="1242" y="1627">(π0 $z 2)</text></g>
<g id="b_y_1391_1621"><ellipse class="y" cx="1391" cy="1621" rx="67" ry="24"/><text x="1391" y="1627">2:F1 π0 2?</text></g>
<g id="b_p_1518_1621"><ellipse class="p" cx="1518" cy="1621" rx="36" ry="24"/><text x="1518" y="1627">p</text></g>
<g id="b_p_1612_1621"><ellipse class="p" cx="1612" cy="1621" rx="36" ry="24"/><text x="1612" y="1627">p</text></g>
<g id="b_o_1733_1621"><ellipse class="o" cx="1733" cy="1621" rx="59" ry="24"/><text x="1733" y="1627">(π0 $z 0)</text></g>
<g id="b_y_1883_1621"><ellipse class="y" cx="1883" cy="1621" rx="67" ry="24"/><text x="1883" y="1627">2:F1 π0 0?</text></g>
<g id="b_p_2009_1621"><ellipse class="p" cx="2009" cy="1621" rx="36" ry="24"/><text x="2009" y="1627">p</text></g>
<g id="b_p_2105_1621"><ellipse class="p" cx="2105" cy="1621" rx="36" ry="24"/><text x="2105" y="1627">p</text></g>
<g id="b_o_2224_1621"><ellipse class="o" cx="2224" cy="1621" rx="59" ry="24"/><text x="2224" y="1627">(π1 $z 0)</text></g>
<g id="b_y_2373_1621"><ellipse class="y" cx="2373" cy="1621" rx="67" ry="24"/><text x="2373" y="1627">2:F1 π1 0?</text></g>
<g id="b_p_2500_1621"><ellipse class="p" cx="2500" cy="1621" rx="36" ry="24"/><text x="2500" y="1627">p</text></g>
<g id="b_p_2596_1621"><ellipse class="p" cx="2596" cy="1621" rx="36" ry="24"/><text x="2596" y="1627">p</text></g>
<g id="b_o_2715_1621"><ellipse class="o" cx="2715" cy="1621" rx="59" ry="24"/><text x="2715" y="1627">(π0 $z 1)</text></g>
<g id="b_y_2864_1621"><ellipse class="y" cx="2864" cy="1621" rx="67" ry="24"/><text x="2864" y="1627">2:F1 π0 1?</text></g>
<g id="b_p_2991_1621"><ellipse class="p" cx="2991" cy="1621" rx="36" ry="24"/><text x="2991" y="1627">p</text></g>
<g id="b_aM_3132_1621"><rect class="a" x="3096" y="1597" width="72" height="48" rx="12"/><text x="3132" y="1627">αM</text></g>
<g id="b_p_3227_1621"><ellipse class="p" cx="3227" cy="1621" rx="36" ry="24"/><text x="3227" y="1627">p</text></g>
<g id="b_o_3374_1621"><ellipse class="o" cx="3374" cy="1621" rx="85" ry="24"/><text x="3374" y="1627">(diag $z None)</text></g>
<g id="b_p_3518_1621"><ellipse class="p" cx="3518" cy="1621" rx="36" ry="24"/><text x="3518" y="1627">p</text></g>
<g id="b_y_3653_1621"><ellipse class="y" cx="3653" cy="1621" rx="74" ry="24"/><text x="3653" y="1627">F1 == 3:F2?</text></g>
<g id="b_y_3826_1621"><ellipse class="y" cx="3826" cy="1621" rx="74" ry="24"/><text x="3826" y="1627">F1 == 2:F1?</text></g>
<g id="b_p_3961_1621"><ellipse class="p" cx="3961" cy="1621" rx="36" ry="24"/><text x="3961" y="1627">p</text></g>
<g id="b_o_4134_1621"><ellipse class="o" cx="4134" cy="1621" rx="114" ry="24"/><text x="4134" y="1627">(back_diag $z None)</text></g>
<g id="b_p_4308_1621"><ellipse class="p" cx="4308" cy="1621" rx="36" ry="24"/><text x="4308" y="1627">p</text></g>
<g id="b_aM_4404_1621"><rect class="a" x="4368" y="1597" width="72" height="48" rx="12"/><text x="4404" y="1627">αM</text></g>
<g id="b_J_129_1717"><rect class="j" x="93" y="1693" width="72" height="48"/><text x="129" y="1723">J</text></g>
<g id="b_y_106_1813"><ellipse class="y" cx="106" cy="1813" rx="79" ry="24"/><text x="106" y="1819">1:F1 != 2:F1?</text></g>
<g id="b_y_291_1813"><ellipse class="y" cx="291" cy="1813" rx="79" ry="24"/><text x="291" y="1819">1:F1 != 5:F1?</text></g>
<g id="b_p_430_1813"><ellipse class="p" cx="430" cy="1813" rx="36" ry="24"/><text x="430" y="1819">p</text></g>
<g id="b_o_553_1813"><ellipse class="o" cx="553" cy="1813" rx="62" ry="24"/><text x="553" y="1819">(!= $y $z)</text></g>
</svg>
